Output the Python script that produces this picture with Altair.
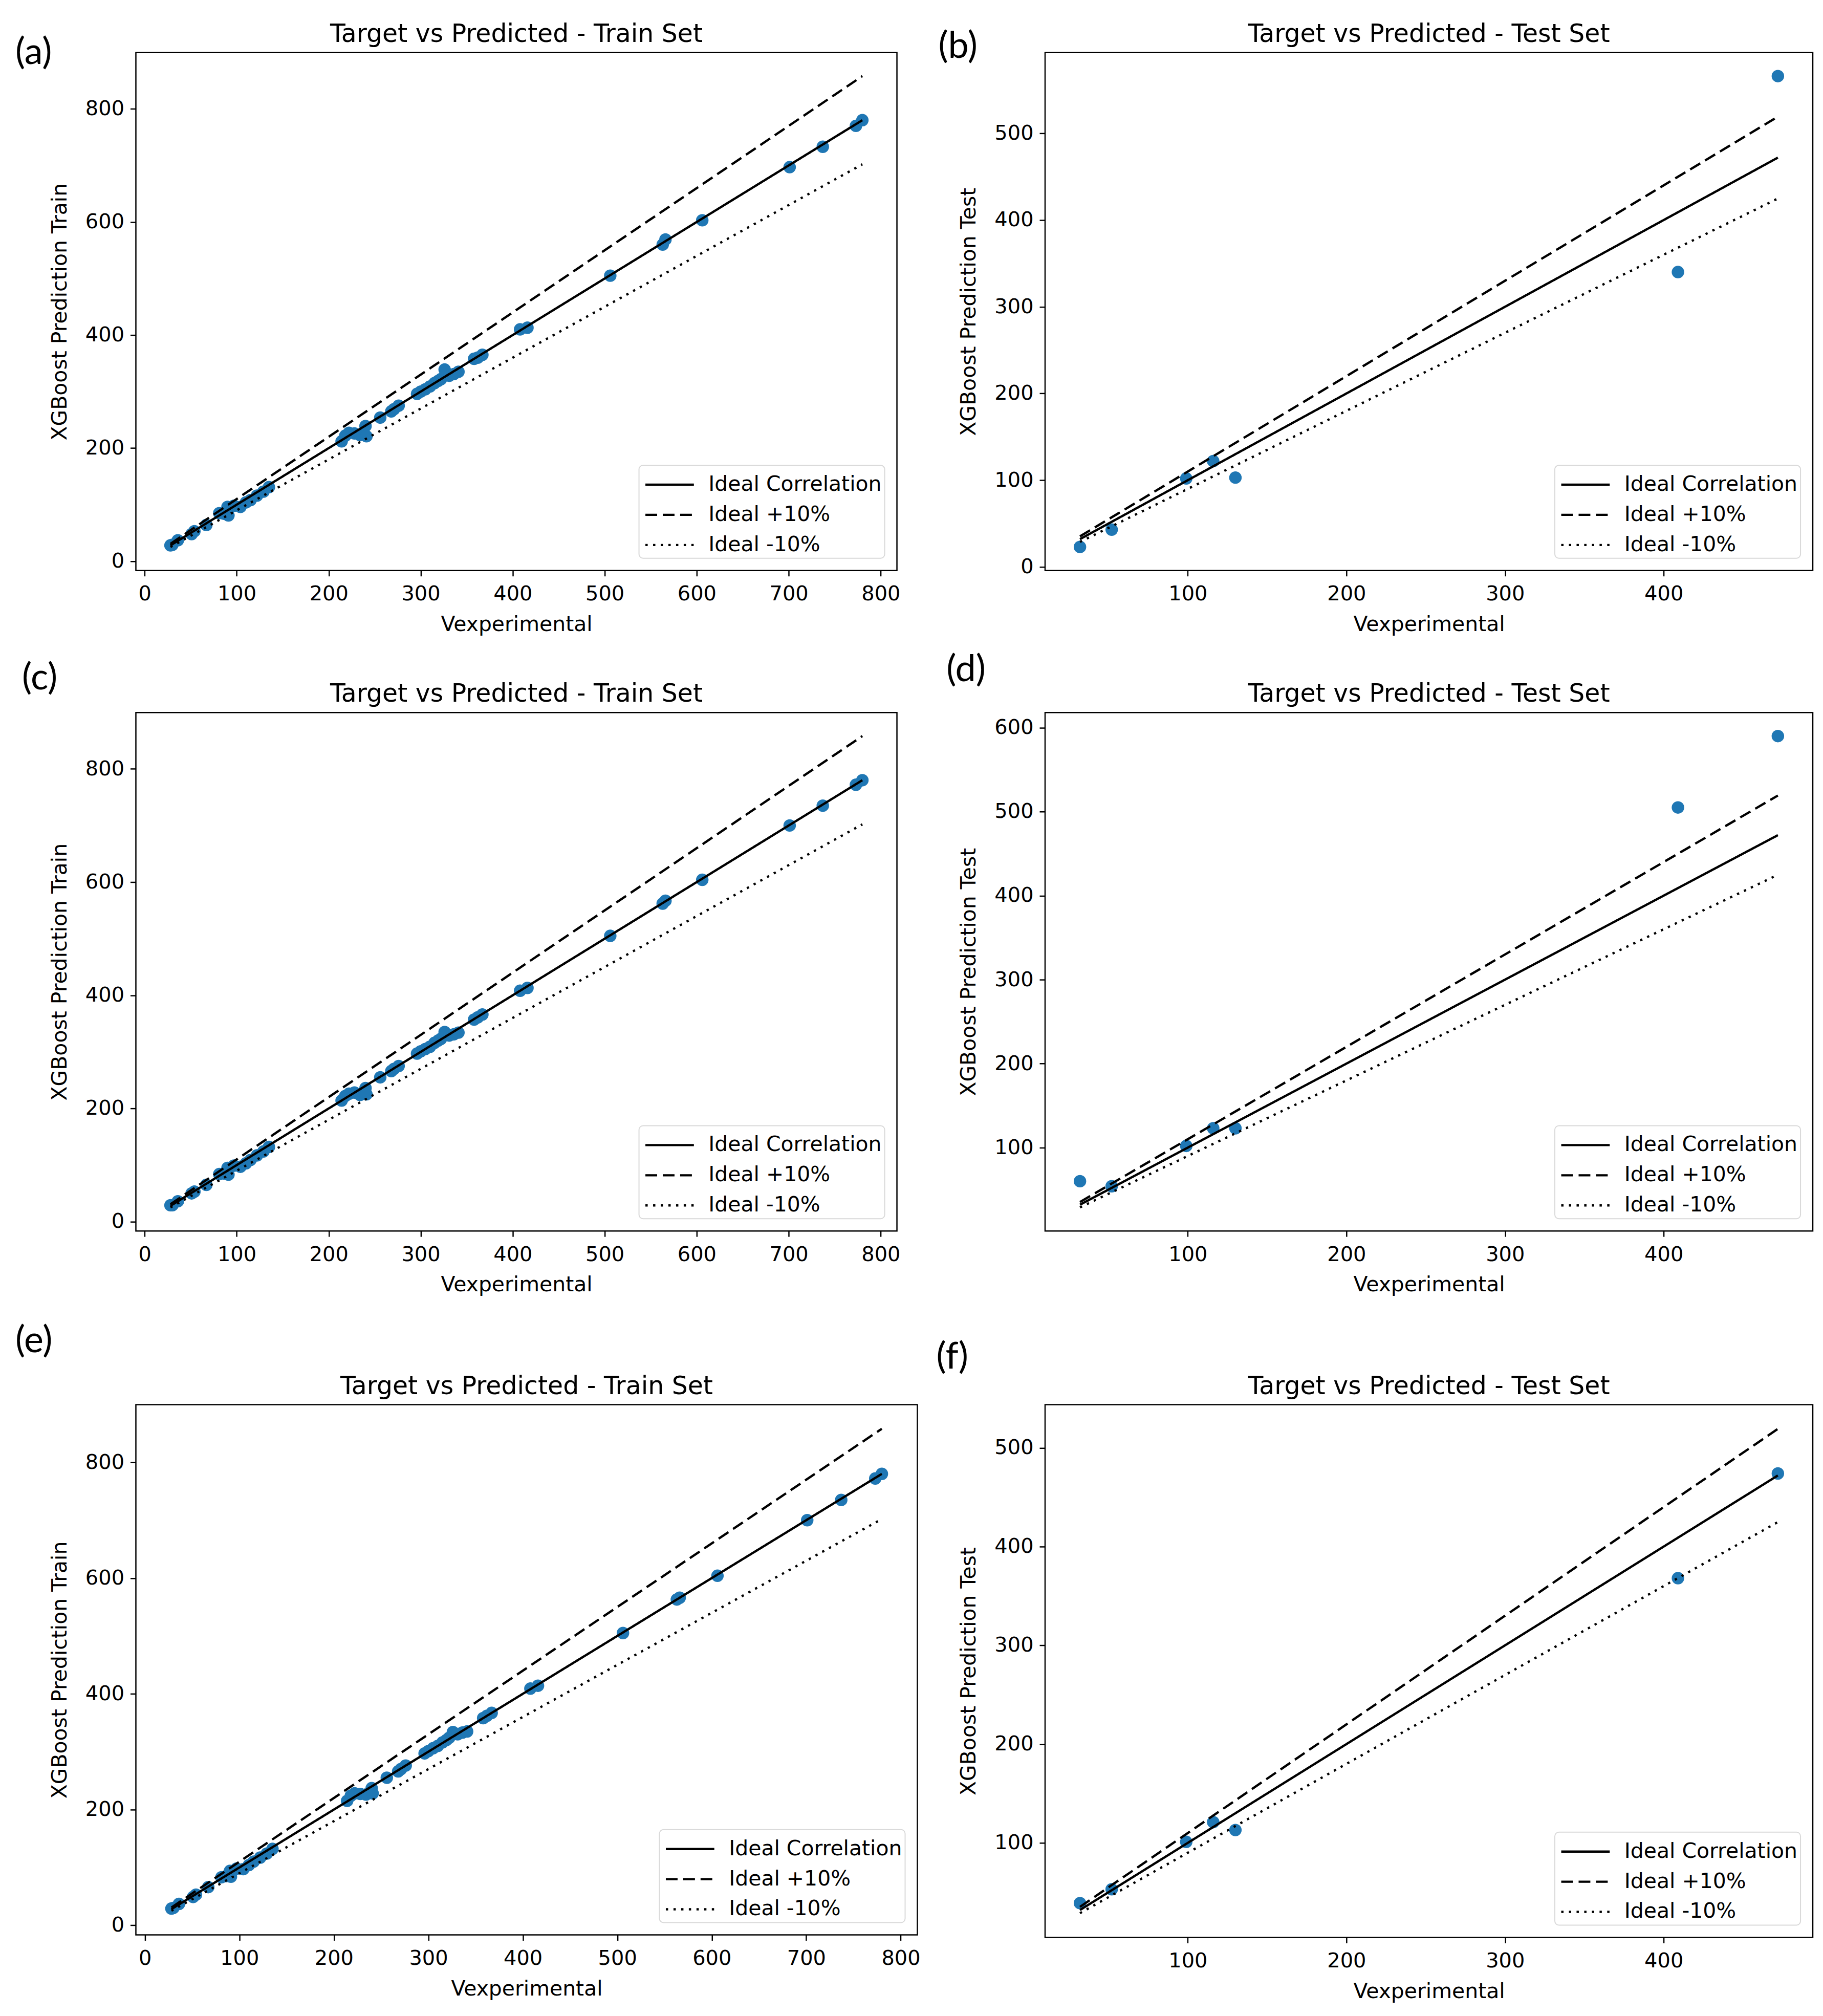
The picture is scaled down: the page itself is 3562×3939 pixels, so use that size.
import altair as alt
import pandas as pd

# ---- data ----
train_x = [28, 30, 36, 51, 54, 67, 81, 86, 90, 91, 97, 104, 110, 115, 122, 129, 135,
           214, 218, 222, 228, 234, 240, 241, 256, 268, 271, 276, 296, 300, 305, 310,
           315, 319, 322, 326, 331, 336, 341, 358, 362, 367, 408, 416, 506, 563, 566,
           606, 701, 737, 773, 780]
train_pred_a = [28, 29, 37, 48, 53, 64, 85, 84, 96, 81, 98, 96, 104, 108, 116, 123, 131,
                212, 222, 227, 226, 223, 239, 221, 254, 265, 269, 275, 296, 300, 304, 309,
                315, 319, 322, 339, 328, 331, 335, 358, 360, 365, 410, 413, 505, 560, 569,
                603, 697, 733, 770, 780]
train_pred_c = [29, 29, 36, 50, 53, 65, 84, 85, 95, 83, 99, 97, 103, 109, 117, 124, 132,
                214, 222, 226, 228, 224, 236, 225, 255, 266, 270, 275, 297, 301, 305, 309,
                316, 320, 323, 335, 329, 331, 334, 357, 361, 366, 408, 413, 505, 562, 567,
                604, 700, 735, 772, 780]
train_pred_e = [29, 30, 37, 49, 53, 66, 83, 85, 94, 84, 98, 97, 104, 110, 117, 124, 132,
                215, 224, 228, 227, 226, 237, 228, 255, 266, 270, 276, 297, 301, 306, 310,
                316, 320, 324, 334, 330, 333, 335, 358, 362, 367, 409, 414, 505, 563, 566,
                604, 700, 735, 772, 780]

test_x = [32, 52, 99, 116, 130, 409, 472]
test_pred_b = [23, 43, 102, 122, 103, 340, 566]
test_pred_d = [60, 54, 102, 123, 123, 505, 590]
test_pred_f = [39, 53, 101, 121, 113, 368, 474]

line_names = ["Ideal Correlation", "Ideal +10%", "Ideal -10%"]
line_factors = [1.0, 1.1, 0.9]
line_dashes = [[1, 0], [23, 11], [4.5, 10.5]]

train_x_ticks = [0, 100, 200, 300, 400, 500, 600, 700, 800]
train_y_ticks = [0, 200, 400, 600, 800]
test_x_ticks = [100, 200, 300, 400]
test_y_ticks_b = [0, 100, 200, 300, 400, 500]
test_y_ticks_d = [100, 200, 300, 400, 500, 600]
test_y_ticks_f = [100, 200, 300, 400, 500]

panel_tags = ["(a)", "(b)", "(c)", "(d)", "(e)", "(f)"]
train_title = "Target vs Predicted - Train Set"
test_title = "Target vs Predicted - Test Set"

FONT = "DejaVu Sans"
BLUE = "#1f77b4"
# legend line sample: a horizontal stroke longer than the nominal symbol box
LEGEND_SYMBOL = "M-1.6,0H1.6"


def mpl_domain(vals):
    lo, hi = min(vals), max(vals)
    pad = 0.05 * (hi - lo)
    return [lo - pad, hi + pad]


def panel(xs, ys, title, ylabel, xticks, yticks, w, h):
    lo, hi = min(xs), max(xs)
    line_rows = []
    for name, f in zip(line_names, line_factors):
        for v in (lo, hi):
            line_rows.append({"kind": name, "x": v, "y": v * f})
    lines_df = pd.DataFrame(line_rows)
    xdom = mpl_domain(xs)
    ydom = mpl_domain(list(ys) + [lo * 0.9, hi * 1.1])

    x_enc = alt.X("x:Q", scale=alt.Scale(domain=xdom, nice=False, zero=False),
                  axis=alt.Axis(values=xticks, title="Vexperimental"))
    y_enc = alt.Y("y:Q", scale=alt.Scale(domain=ydom, nice=False, zero=False),
                  axis=alt.Axis(values=yticks, title=ylabel))

    pts = alt.Chart(pd.DataFrame({"x": xs, "y": ys})).mark_circle(
        size=600, color=BLUE, opacity=1
    ).encode(x=x_enc, y=y_enc)

    lines = alt.Chart(lines_df).mark_line(color="black", strokeWidth=4.5).encode(
        x="x:Q",
        y="y:Q",
        strokeDash=alt.StrokeDash(
            "kind:N",
            scale=alt.Scale(domain=line_names, range=line_dashes),
            title=None,
            legend=alt.Legend(symbolType=LEGEND_SYMBOL),
        ),
    )

    return alt.layer(pts, lines).properties(
        width=w, height=h, title=alt.TitleParams(text=title)
    )


def spacer(w, h, tag="", pos=(0, 0)):
    # empty cell of the grid; may carry a panel tag such as "(a)"
    return alt.Chart(pd.DataFrame({"tag": [tag]})).mark_text(
        font="Lato", fontSize=72, align="left", baseline="middle", color="black"
    ).encode(
        x=alt.value(pos[0]), y=alt.value(pos[1]), text="tag:N"
    ).properties(width=w, height=h, view=alt.ViewBackground(strokeOpacity=0))


pa = panel(train_x, train_pred_a, train_title, "XGBoost Prediction Train",
           train_x_ticks, train_y_ticks, 1490, 1014)
pb = panel(test_x, test_pred_b, test_title, "XGBoost Prediction Test",
           test_x_ticks, test_y_ticks_b, 1503, 1014)
pc = panel(train_x, train_pred_c, train_title, "XGBoost Prediction Train",
           train_x_ticks, train_y_ticks, 1490, 1015)
pd_ = panel(test_x, test_pred_d, test_title, "XGBoost Prediction Test",
            test_x_ticks, test_y_ticks_d, 1503, 1015)
pe = panel(train_x, train_pred_e, train_title, "XGBoost Prediction Train",
           train_x_ticks, train_y_ticks, 1530, 1038)
pf = panel(test_x, test_pred_f, test_title, "XGBoost Prediction Test",
           test_x_ticks, test_y_ticks_f, 1503, 1043)

GAP = 250
cells = [
    spacer(41, 1014, panel_tags[0], (-195, 0)), pa,
    spacer(GAP, 1014, panel_tags[1], (41, -12)), pb,
    spacer(1, 278), spacer(1, 278), spacer(1, 278), spacer(1, 278),
    spacer(41, 1015, panel_tags[2], (-182, -67)), pc,
    spacer(GAP, 1015, panel_tags[3], (57, -83)), pd_,
    spacer(1, 340), spacer(1, 340), spacer(1, 340), spacer(1, 340),
    spacer(1, 1040, panel_tags[4], (-195, -125)), pe,
    spacer(GAP, 1040, panel_tags[5], (37, -93)), pf,
]

chart = alt.concat(
    *cells, columns=4, align="none", bounds="flush", spacing=0
).resolve_scale(strokeDash="independent").resolve_legend(
    strokeDash="independent"
).properties(
    padding={"left": 22, "top": 29, "right": 10, "bottom": 10}
).configure_view(
    stroke="black", strokeWidth=2.5
).configure_axis(
    domain=False, grid=False, tickColor="black", tickSize=11, tickWidth=2.5,
    labelFont=FONT, labelFontSize=40, labelColor="black",
    labelFlush=False, labelOverlap=False,
    titleFont=FONT, titleFontSize=41, titleFontWeight="normal", titleColor="black",
).configure_axisX(
    labelPadding=15, titlePadding=20
).configure_axisY(
    labelPadding=12, titlePadding=28
).configure_title(
    font=FONT, fontSize=49, fontWeight="normal", color="black",
    anchor="middle", frame="group", baseline="alphabetic", offset=11,
).configure_legend(
    orient="bottom-right", offset=24, padding=6, rowPadding=7,
    fillColor="white", strokeColor="#d9d9d9", strokeWidth=2, cornerRadius=8,
    labelFont=FONT, labelFontSize=41, labelColor="black", labelOffset=44,
    labelLimit=1000, symbolSize=3520, symbolOffset=22,
    symbolStrokeWidth=4.3, symbolStrokeColor="black",
)

chart.save("out.html", embed_options={"renderer": "svg", "actions": False})
